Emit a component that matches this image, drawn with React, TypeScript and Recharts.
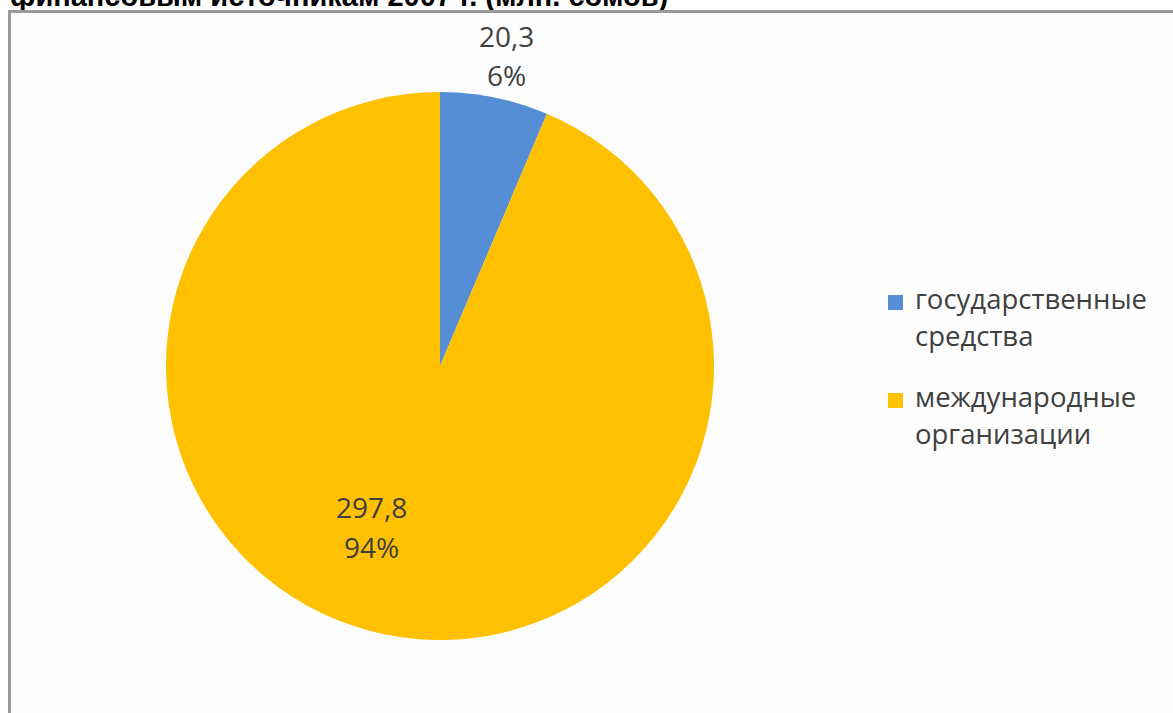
import { PieChart, Pie, Cell, Legend } from 'recharts';

const categories = ['государственные средства', 'международные организации'];
const values = [20.3, 297.8];
const valueLabels = ['20,3', '297,8'];
const percentLabels = ['6%', '94%'];
const COLORS = ['#558ED5', '#FFC000'];

const data = categories.map((name, i) => ({ name, value: values[i] }));

const RADIAN = Math.PI / 180;
const FONT = "'Open Sans', sans-serif";

const renderLabel = (props: any) => {
  const { cx, cy, midAngle, outerRadius, index } = props;
  // Excel puts the small slice label outside, the big one inside
  const k = index === 0 ? 1.11 : 0.63;
  const shiftX = index === 0 ? 6 : -34;
  const shiftY = index === 0 ? -9 : -5;
  const r = outerRadius * k;
  const x = cx + r * Math.cos(-midAngle * RADIAN) + shiftX;
  const y = cy + r * Math.sin(-midAngle * RADIAN) + shiftY;
  return (
    <text x={x} y={y} fill="#404040" textAnchor="middle" fontFamily={FONT} fontSize={28}>
      <tspan x={x} dy={-12}>{valueLabels[index]}</tspan>
      <tspan x={x} dy={39.5}>{percentLabels[index]}</tspan>
    </text>
  );
};

const LegendContent = () => (
  <div style={{ fontFamily: FONT, fontSize: 27.5, color: '#404040', lineHeight: '37px' }}>
    {categories.map((c, i) => {
      const words = c.split(' ');
      return (
        <div key={c} style={{ display: 'flex', marginBottom: 24 }}>
          <span style={{ width: 15, height: 15, background: COLORS[i], marginTop: 15, marginRight: 12, flexShrink: 0 }} />
          <div>
            <div>{words[0]}</div>
            <div>{words[1]}</div>
          </div>
        </div>
      );
    })}
  </div>
);

export default function App() {
  return (
    <div style={{ position: 'fixed', left: 0, top: 0, width: 1173, height: 713, overflow: 'hidden', background: '#fff' }}>
      <div
        style={{
          position: 'absolute', left: 10, top: -18, fontFamily: "'Liberation Sans', Arial, sans-serif",
          fontWeight: 'bold', fontSize: 29, lineHeight: '29px', color: '#000', whiteSpace: 'nowrap',
        }}
      >
        финансовым источникам 2007 г. (млн. сомов)
      </div>
      <div
        style={{
          position: 'absolute', left: 8, top: 10, width: 1200, height: 800,
          borderLeft: '3px solid #9a9a9a', borderTop: '3px solid #9a9a9a', background: '#fdfdfd',
        }}
      />
      <div style={{ position: 'absolute', left: 0, top: 0 }}>
        <PieChart width={1173} height={713} margin={{ top: 0, right: 0, bottom: 0, left: 0 }}>
          <Pie
            data={data}
            dataKey="value"
            nameKey="name"
            cx={440}
            cy={366}
            outerRadius={274}
            startAngle={90}
            endAngle={-270}
            stroke="none"
            label={renderLabel}
            labelLine={false}
            isAnimationActive={false}
          >
            {data.map((d, i) => (
              <Cell key={d.name} fill={COLORS[i]} />
            ))}
          </Pie>
          <Legend
            layout="vertical"
            align="right"
            verticalAlign="top"
            wrapperStyle={{ left: 888, top: 280, width: 285 }}
            content={<LegendContent />}
          />
        </PieChart>
      </div>
    </div>
  );
}
